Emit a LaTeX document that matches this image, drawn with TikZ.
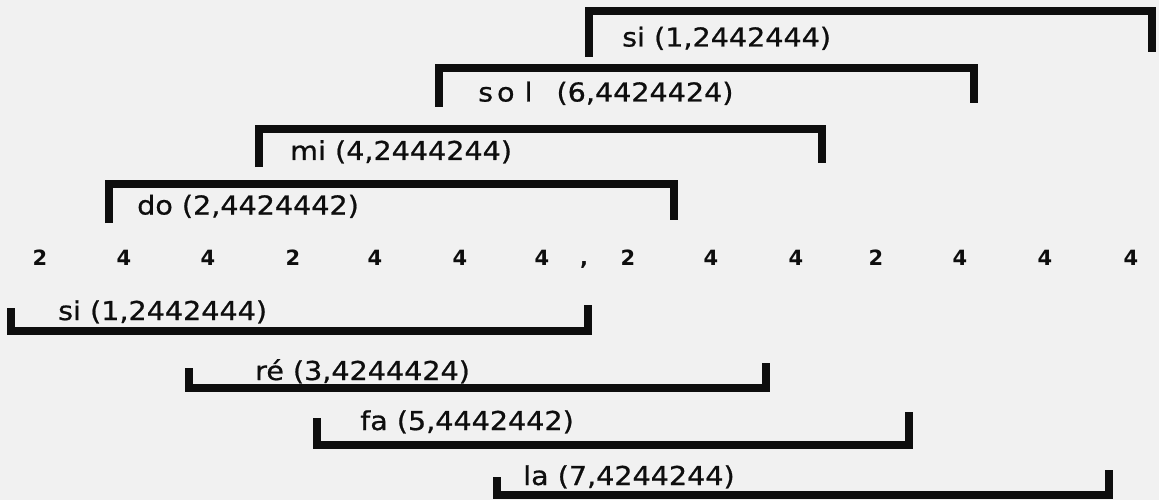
\documentclass[tikz,border=0pt]{standalone}
\usepackage{fontspec}
\newfontfamily\lab[FakeStretch=1.1,FakeBold=0.8]{DejaVu Sans}
\newfontfamily\numf{DejaVu Sans Bold}
\definecolor{ink}{RGB}{14,14,14}
\definecolor{bg}{RGB}{241,241,241}
\begin{document}
\begin{tikzpicture}[x=1pt,y=-1pt,
  brk/.style={line width=8pt, line join=miter, draw=ink},
  lbl/.style={anchor=base west, inner sep=0pt, font=\lab\fontsize{26}{26}\selectfont, text=ink},
  num/.style={anchor=base, inner sep=0pt, font=\numf\fontsize{21}{21}\selectfont, text=ink}]
\fill[bg] (0,0) rectangle (1159,500);
\useasboundingbox (0,0) rectangle (1159,500);
% upper brackets (opening downward)
\draw[brk] (589,57) -- (589,11.5) -- (1152,11.5) -- (1152,52);
\node[lbl] (siA) at (622,46.5) {si (1,2442444)};
\draw[brk] (439,107) -- (439,68.5) -- (974,68.5) -- (974,103);
\node[lbl] (sol) at (478,101.5) {s\kern4pt o\kern10pt l\kern24pt(6,4424424)};
\draw[brk] (259,167) -- (259,129) -- (822,129) -- (822,163);
\node[lbl] (mi) at (290,160) {mi (4,2444244)};
\draw[brk] (109,223) -- (109,184) -- (674,184) -- (674,220);
\node[lbl] (do) at (137,214.5) {do (2,4424442)};
% interval row
\node[num] (n1) at (40,265) {2};
\node[num] (n2) at (124,265) {4};
\node[num] (n3) at (208,265) {4};
\node[num] (n4) at (293,265) {2};
\node[num] (n5) at (375,265) {4};
\node[num] (n6) at (460,265) {4};
\node[num] (n7) at (542,265) {4};
\node[num] (cm) at (584,265) {,};
\node[num] (n8) at (628,265) {2};
\node[num] (n9) at (711,265) {4};
\node[num] (n10) at (796,265) {4};
\node[num] (n11) at (876,265) {2};
\node[num] (n12) at (960,265) {4};
\node[num] (n13) at (1045,265) {4};
\node[num] (n14) at (1131,265) {4};
% lower brackets (opening upward)
\draw[brk] (11,308) -- (11,331) -- (588,331) -- (588,305);
\node[lbl] (siB) at (58,320) {si (1,2442444)};
\draw[brk] (189,368) -- (189,388) -- (766,388) -- (766,363);
\node[lbl] (re) at (255,380) {ré (3,4244424)};
\draw[brk] (317,418) -- (317,445) -- (909,445) -- (909,412);
\node[lbl] (fa) at (360,430) {fa (5,4442442)};
\draw[brk] (497,477) -- (497,495) -- (1109,495) -- (1109,470);
\node[lbl] (la) at (523,485) {la (7,4244244)};
\end{tikzpicture}
\end{document}
